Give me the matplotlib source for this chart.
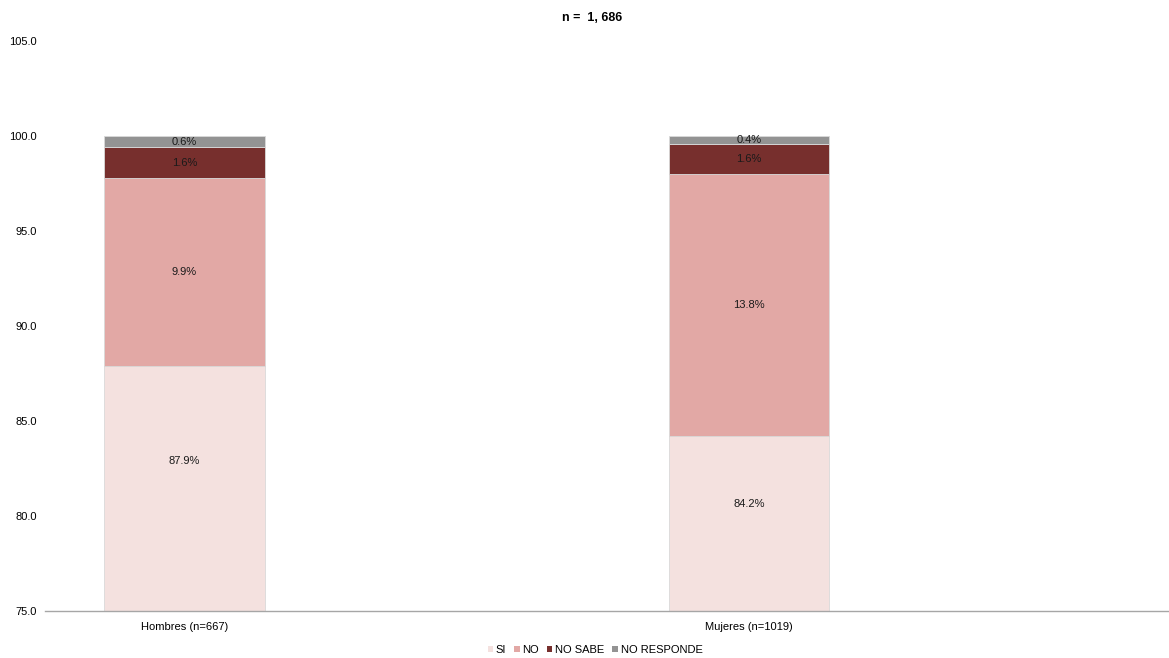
import matplotlib.pyplot as plt
from matplotlib.patches import Patch

plt.rcParams['font.family'] = ['Liberation Sans Narrow', 'Liberation Sans', 'DejaVu Sans']

# data
categorias = ['Hombres (n=667)', 'Mujeres (n=1019)']
series = ['SI', 'NO', 'NO SABE', 'NO RESPONDE']
si = [87.9, 84.2]
no = [9.9, 13.8]
no_sabe = [1.6, 1.6]
no_responde = [0.6, 0.4]
colores = ['#F4E1DF', '#E2A8A5', '#772F2D', '#939393']

y_min, y_max = 75, 105

fig = plt.figure(figsize=(11.69, 6.58), dpi=100)
ax = fig.add_axes([45 / 1169, 1 - 611 / 658, 1 - 45 / 1169, (611 - 41) / 658])

x = list(range(len(categorias)))
base = [0.0] * len(categorias)
for vals, col in zip([si, no, no_sabe, no_responde], colores):
    ax.bar(x, vals, bottom=base, width=0.285, color=col,
           edgecolor='#D9D9D9', linewidth=0.6)
    for xi, b, v in zip(x, base, vals):
        top = b + v
        if b < y_min:
            # segment is cut by the axis: label sits inside the visible part
            ypos = top - 0.39 * (top - y_min)
        else:
            ypos = b + v / 2
        ax.text(xi, ypos, f'{v:.1f}%', ha='center', va='center',
                fontsize=8, color='#1a1a1a')
    base = [b + v for b, v in zip(base, vals)]

ax.set_ylim(y_min, y_max)
ax.set_xlim(-0.247, 1.744)
ticks = [75, 80, 85, 90, 95, 100, 105]
ax.set_yticks(ticks)
ax.set_yticklabels([f'{t:.1f}' for t in ticks], fontsize=8)
ax.set_xticks(x)
ax.set_xticklabels(categorias, fontsize=8)
ax.tick_params(axis='x', length=0, pad=8)
ax.tick_params(axis='y', length=0, pad=6)
for s in ['top', 'right', 'left']:
    ax.spines[s].set_visible(False)
ax.spines['bottom'].set_color('#A6A6A6')
ax.spines['bottom'].set_linewidth(1)

fig.text(592 / 1169, 1 - 18 / 658, 'n =  1, 686', ha='center', va='center',
         fontsize=9, fontweight='bold')

handles = [Patch(facecolor=c, edgecolor='none') for c in colores]
fig.legend(handles, series, loc='center', bbox_to_anchor=(595 / 1169, 1 - 650 / 658),
           ncol=4, frameon=False, fontsize=8, handlelength=0.5, handleheight=0.5,
           handletextpad=0.25, columnspacing=0.7, borderpad=0.1)

fig.savefig('out.png', dpi=100)
